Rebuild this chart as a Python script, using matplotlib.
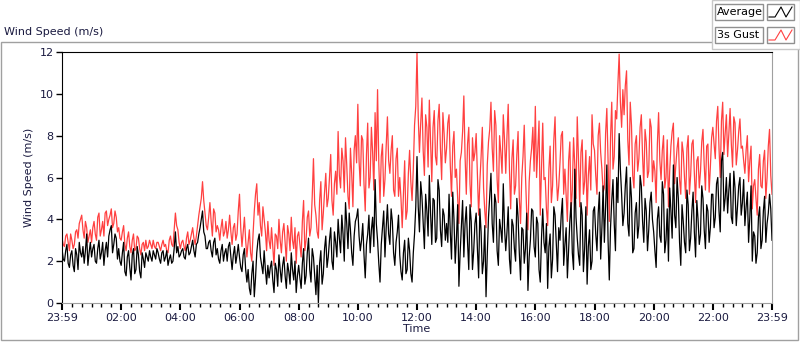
import numpy as np
import matplotlib
matplotlib.use('Agg')
import matplotlib.pyplot as plt
from matplotlib.patches import Rectangle
from matplotlib.lines import Line2D

# Wind speed (m/s), one row per hour.
# *_a: samples on every 5 minutes, *_b: samples 2.5 minutes later.
average_a = [
    2.6, 2.0, 2.8, 1.7, 2.5, 1.5, 2.3, 2.9, 2.2, 1.9, 3.3, 2.4,
    2.2, 2.8, 1.9, 3.0, 2.4, 1.8, 2.9, 3.2, 3.7, 2.8, 3.1, 2.6,
    1.8, 2.9, 1.3, 2.5, 1.1, 2.6, 1.6, 2.3, 1.2, 2.1, 2.4, 2.0,
    2.2, 2.5, 2.1, 2.4, 1.9, 2.5, 2.2, 1.8, 2.3, 2.0, 3.4, 2.7,
    2.3, 2.6, 2.1, 2.8, 2.4, 3.0, 2.2, 2.9, 3.6, 4.4, 3.2, 2.6,
    3.0, 2.2, 3.1, 2.6, 1.9, 2.8, 2.4, 2.0, 2.9, 1.6, 2.7, 2.3,
    2.2, 1.5, 2.6, 1.0, 0.7, 1.4, 0.3, 2.4, 3.3, 1.8, 2.5, 0.9,
    1.2, 2.0, 0.5, 1.6, 2.3, 1.0, 2.2, 0.7, 1.5, 2.4, 1.1, 0.5,
    1.8, 0.7, 2.6, 1.3, 3.1, 1.0, 2.2, 0.4, 0.0, 2.5, 1.4, 3.2,
    2.2, 3.6, 1.6, 2.9, 4.0, 2.4, 3.3, 4.8, 2.6, 3.5, 1.8, 3.9,
    4.5, 2.5, 3.8, 1.2, 3.3, 2.4, 4.1, 5.9, 3.0, 1.0, 3.6, 2.2,
    4.7, 2.8, 3.9, 1.8, 3.4, 2.3, 1.1, 3.0, 1.6, 2.5, 1.0, 3.3,
    7.0, 3.4, 5.1, 2.6, 4.4, 6.1, 2.8, 4.9, 3.1, 5.4, 2.7, 4.2,
    3.8, 5.2, 2.1, 4.0, 3.1, 0.8, 3.6, 2.2, 4.6, 1.6, 3.9, 2.5,
    4.3, 1.2, 3.4, 2.0, 0.3, 4.1, 6.2, 2.9, 4.8, 1.8, 3.5, 5.7,
    2.5, 4.6, 1.4, 3.7, 2.0, 4.1, 1.1, 3.5, 2.6, 0.6, 3.0, 4.4,
    2.2, 3.8, 1.0, 4.5, 2.4, 0.7, 3.3, 2.1, 4.2, 1.5, 3.0, 5.0,
    2.8, 1.2, 3.9, 2.4, 6.4, 3.1, 1.8, 4.2, 2.6, 0.9, 3.5, 2.0,
    4.6, 2.5, 5.3, 3.6, 2.9, 6.6, 1.1, 4.9, 3.8, 6.0, 8.1, 5.2,
    4.3, 6.5, 3.2, 5.0, 2.6, 4.8, 3.7, 5.6, 2.9, 4.4, 3.5, 5.3,
    3.4, 1.7, 4.6, 2.9, 5.2, 3.0, 2.0, 4.4, 6.6, 3.6, 5.0, 1.8,
    3.9, 2.4, 4.7, 3.1, 5.3, 2.2, 4.0, 3.3, 5.0, 2.6, 4.4, 3.6,
    5.2, 4.1, 6.0, 3.4, 7.2, 5.0, 4.3, 6.2, 3.8, 5.5, 4.6, 6.0,
    4.8, 3.7, 5.3, 4.1, 2.0, 3.2, 2.4, 4.6, 3.0, 5.1, 3.8, 5.2,
    3.0,
]
average_b = [
    2.1, 2.5, 1.9, 2.3, 1.8, 2.6, 1.6, 2.4, 2.7, 2.5, 1.8, 2.9,
    2.6, 2.0, 2.6, 2.1, 2.9, 2.5, 2.2, 3.5, 2.4, 3.3, 2.1, 2.0,
    2.4, 1.5, 2.2, 1.7, 2.3, 1.4, 2.7, 1.5, 2.4, 1.7, 2.2, 2.5,
    2.0, 2.3, 2.6, 2.1, 2.4, 2.0, 2.5, 2.1, 1.9, 2.6, 2.4, 2.2,
    2.5, 2.2, 2.6, 2.3, 2.7, 2.5, 2.8, 3.3, 4.0, 3.4, 2.6, 2.9,
    2.5, 2.9, 2.3, 2.1, 2.5, 2.0, 2.6, 2.7, 2.2, 2.3, 1.9, 2.8,
    1.7, 2.3, 1.6, 1.6, 0.4, 2.0, 1.2, 3.0, 2.2, 1.4, 1.6, 1.8,
    1.7, 1.1, 1.9, 0.8, 1.6, 1.8, 1.3, 1.9, 0.9, 1.6, 2.0, 1.3,
    1.2, 1.9, 0.9, 2.4, 1.6, 2.6, 1.3, 1.8, 1.9, 0.9, 2.6, 1.7,
    3.0, 2.0, 3.4, 2.2, 3.1, 4.2, 2.0, 3.8, 4.3, 2.4, 3.2, 4.1,
    3.2, 3.0, 2.3, 2.8, 4.2, 3.5, 2.7, 3.8, 1.9, 2.8, 4.4, 3.6,
    3.3, 4.5, 2.4, 2.9, 4.2, 1.5, 2.4, 1.4, 3.1, 1.4, 2.4, 4.6,
    4.6, 5.8, 3.9, 5.2, 3.2, 4.3, 5.0, 2.9, 5.9, 3.5, 4.5, 3.0,
    2.9, 3.4, 5.3, 1.9, 4.7, 2.4, 4.9, 3.8, 2.9, 4.7, 1.6, 3.8,
    2.6, 4.5, 1.4, 3.7, 2.3, 5.1, 3.8, 5.2, 2.5, 4.0, 2.9, 3.6,
    3.4, 2.1, 4.0, 2.6, 5.0, 2.4, 3.6, 1.9, 4.3, 2.2, 4.5, 2.7,
    4.1, 1.6, 3.1, 2.9, 3.8, 2.7, 1.2, 4.6, 2.8, 3.6, 4.2, 1.8,
    3.6, 2.5, 4.8, 1.6, 4.1, 2.3, 4.8, 1.5, 4.6, 2.7, 1.6, 4.4,
    3.3, 4.3, 2.1, 5.6, 4.6, 3.0, 3.6, 5.9, 2.5, 4.8, 6.4, 3.7,
    5.6, 3.8, 6.0, 2.4, 4.3, 3.1, 6.1, 3.9, 5.0, 2.5, 4.8, 4.0,
    2.5, 4.0, 3.2, 5.8, 2.4, 4.5, 5.5, 3.1, 4.2, 6.0, 2.9, 4.7,
    2.9, 5.4, 2.5, 4.4, 3.4, 4.9, 2.8, 5.6, 3.5, 4.7, 2.9, 5.2,
    3.6, 5.7, 4.4, 6.8, 4.4, 6.0, 5.4, 4.1, 6.3, 3.7, 5.6, 4.2,
    5.9, 4.6, 2.9, 5.6, 3.4, 1.9, 4.1, 2.6, 4.4, 2.9, 4.3, 4.5,
]
gust_a = [
    3.1, 2.7, 3.3, 2.5, 3.0, 2.8, 3.5, 3.8, 4.2, 3.1, 3.6, 3.2,
    2.9, 3.9, 3.0, 4.3, 3.5, 3.2, 4.4, 4.0, 4.5, 3.8, 4.1, 3.6,
    3.0, 3.7, 2.5, 3.4, 2.4, 3.3, 2.6, 3.1, 2.3, 2.9, 3.0, 2.7,
    2.8, 3.0, 2.6, 2.9, 2.5, 3.0, 2.8, 2.4, 3.2, 2.7, 4.3, 3.5,
    2.6, 3.0, 2.5, 3.4, 3.0, 3.6, 2.8, 3.7, 4.6, 5.8, 4.3, 3.5,
    4.8, 3.2, 4.3, 3.7, 3.0, 4.0, 3.4, 3.1, 4.2, 2.8, 3.8, 3.3,
    5.2, 2.7, 4.1, 2.2, 3.5, 2.0, 4.4, 5.7, 4.8, 3.2, 4.0, 2.5,
    3.0, 3.6, 1.8, 3.2, 4.0, 2.4, 3.8, 2.0, 3.3, 4.1, 2.6, 1.9,
    3.4, 2.2, 4.9, 3.0, 4.4, 3.6, 6.9, 4.2, 3.1, 5.8, 4.3, 6.2,
    5.0, 7.1, 4.2, 6.3, 8.2, 5.5, 6.8, 7.9, 5.1, 7.4, 4.6, 8.0,
    9.5, 5.6, 7.8, 4.4, 8.6, 6.0, 7.2, 9.1, 10.2, 4.8, 7.6, 5.9,
    8.9, 6.2, 8.0, 5.1, 7.4, 6.0, 3.6, 6.8, 4.4, 7.3, 4.9, 8.5,
    12.0, 7.2, 9.8, 6.1, 8.4, 9.7, 5.8, 9.2, 6.6, 9.5, 5.9, 8.1,
    7.4, 9.0, 5.1, 8.2, 6.4, 3.8, 7.2, 9.9, 5.2, 8.4, 4.6, 6.8,
    8.1, 4.2, 7.0, 5.5, 3.6, 7.7, 9.6, 6.3, 8.5, 4.8, 7.2, 9.0,
    6.2, 9.5, 4.5, 7.8, 5.6, 8.2, 3.8, 7.0, 6.1, 3.5, 6.8, 8.4,
    9.4, 7.3, 4.2, 8.6, 6.0, 3.7, 7.5, 5.6, 8.9, 4.9, 6.7, 8.2,
    6.4, 3.9, 7.7, 5.4, 6.6, 8.9, 4.6, 7.8, 5.8, 4.2, 7.0, 9.0,
    7.3, 5.2, 8.6, 6.4, 5.5, 9.3, 3.9, 9.6, 7.0, 8.8, 11.9, 8.4,
    9.0, 11.1, 6.6, 8.5, 5.5, 8.0, 6.9, 9.0, 5.6, 7.7, 6.3, 8.4,
    6.8, 4.8, 9.1, 5.9, 8.0, 6.0, 4.6, 7.5, 8.6, 6.6, 7.9, 5.2,
    7.2, 5.0, 8.0, 6.1, 7.8, 4.8, 7.0, 6.3, 8.3, 5.4, 7.6, 6.5,
    8.4, 6.9, 9.4, 6.0, 9.6, 8.1, 7.0, 9.3, 6.5, 8.6, 7.3, 8.8,
    7.5, 6.2, 8.0, 6.8, 4.5, 5.9, 4.2, 7.1, 5.5, 7.3, 6.0, 8.3,
    5.2,
]
gust_b = [
    2.8, 3.2, 2.9, 3.3, 2.6, 3.4, 3.1, 4.0, 3.5, 3.9, 2.9, 3.5,
    3.6, 3.3, 4.1, 3.2, 3.9, 4.3, 3.7, 4.2, 3.6, 4.4, 3.4, 3.1,
    3.4, 2.8, 3.1, 2.7, 3.0, 2.5, 3.2, 2.6, 2.8, 2.5, 2.6, 3.0,
    2.6, 2.7, 2.9, 2.7, 2.8, 2.7, 2.5, 3.0, 2.8, 3.5, 3.7, 2.9,
    2.9, 2.7, 3.1, 2.8, 3.3, 3.1, 3.2, 4.2, 5.0, 4.9, 3.7, 4.1,
    3.9, 4.5, 3.4, 3.5, 3.6, 3.2, 3.9, 3.5, 3.4, 3.6, 3.0, 4.4,
    3.6, 3.4, 3.0, 2.9, 2.4, 3.3, 5.2, 4.2, 3.7, 4.6, 3.4, 3.9,
    2.6, 2.7, 3.3, 2.6, 3.0, 3.4, 2.9, 3.7, 2.5, 3.0, 3.6, 3.2,
    2.8, 3.9, 2.5, 4.1, 3.2, 5.1, 4.7, 3.4, 4.9, 3.5, 5.3, 4.6,
    6.0, 4.9, 5.7, 5.2, 6.1, 7.4, 5.3, 6.6, 4.5, 6.2, 7.3, 6.7,
    6.8, 8.0, 5.7, 7.1, 5.5, 8.4, 5.4, 6.8, 6.7, 7.0, 5.1, 7.5,
    6.8, 7.3, 5.4, 6.9, 5.1, 5.0, 5.2, 4.0, 6.2, 5.8, 6.4, 9.4,
    8.9, 8.6, 7.3, 9.0, 6.5, 7.8, 8.4, 7.0, 8.7, 7.4, 9.1, 6.7,
    8.6, 6.6, 7.5, 6.0, 5.0, 6.8, 8.2, 7.0, 7.6, 5.7, 7.9, 7.2,
    6.1, 5.8, 8.4, 4.4, 6.6, 8.3, 7.4, 9.2, 5.9, 8.0, 6.2, 7.8,
    8.0, 6.4, 6.9, 5.2, 7.1, 5.0, 6.0, 8.5, 4.3, 5.8, 7.4, 6.3,
    6.0, 8.7, 6.5, 5.9, 4.5, 6.4, 4.8, 7.8, 6.2, 5.6, 8.0, 5.2,
    5.2, 6.8, 4.4, 7.9, 5.0, 6.9, 7.2, 5.2, 7.3, 6.1, 5.4, 7.6,
    6.1, 8.0, 7.2, 5.3, 8.1, 6.8, 7.9, 6.4, 9.2, 10.5, 9.6, 10.2,
    10.4, 7.8, 9.6, 6.1, 7.6, 6.3, 8.4, 7.0, 8.3, 6.0, 8.8, 5.8,
    6.3, 7.6, 6.8, 7.3, 5.5, 7.8, 6.3, 8.2, 5.7, 7.4, 5.9, 7.7,
    6.0, 7.4, 5.2, 7.6, 6.2, 6.8, 5.5, 7.7, 6.6, 7.5, 5.3, 7.9,
    7.6, 8.7, 7.4, 8.7, 7.1, 9.0, 8.1, 7.6, 8.9, 6.6, 8.2, 7.4,
    6.8, 7.3, 5.8, 7.5, 5.6, 5.0, 6.4, 5.6, 6.8, 5.0, 7.5, 6.1,
]
tick_labels = ['23:59', '02:00', '04:00', '06:00', '08:00', '10:00', '12:00',
               '14:00', '16:00', '18:00', '20:00', '22:00', '23:59']

# merge the two sample sets into one series on a 2.5 minute grid
n = len(average_a)
hours = np.arange(2 * n - 1) * 2.5 / 60.0
average = np.empty(2 * n - 1)
average[0::2] = average_a
average[1::2] = average_b
gust = np.empty(2 * n - 1)
gust[0::2] = gust_a
gust[1::2] = gust_b

txt = '#1a1a40'
plt.rcParams['font.family'] = 'DejaVu Sans'

fig = plt.figure(figsize=(8, 3.42), dpi=100)
ax = fig.add_axes([62 / 800, 39 / 342, 710 / 800, 251 / 342])

ax.plot(hours, gust, color='#ff4040', lw=0.9)
ax.plot(hours, average, color='black', lw=0.9)

ax.set_xlim(0, 24)
ax.set_ylim(0, 12)
ax.set_xticks(np.arange(0, 25, 2))
ax.set_xticklabels(tick_labels)
ax.set_xticks(np.arange(0, 24.01, 1 / 3), minor=True)
ax.set_yticks(np.arange(0, 13, 2))
ax.tick_params(axis='both', labelsize=8, colors='black', labelcolor=txt)
ax.tick_params(axis='x', which='major', length=5, width=1.5, pad=2)
ax.tick_params(axis='x', which='minor', length=3, width=1)
ax.tick_params(axis='y', length=4, width=1, pad=2)
ax.set_xlabel('Time', fontsize=8, color=txt, labelpad=1)
ax.set_ylabel('Wind Speed (m/s)', fontsize=8, color=txt, labelpad=4)
ax.spines['top'].set_color('black')
ax.spines['left'].set_color('black')
ax.spines['bottom'].set_color('#a0a0a0')
ax.spines['right'].set_color('#a0a0a0')

# outer panel and title
fig.patches.append(Rectangle((1 / 800, 2 / 342), 797 / 800, 298 / 342,
                             transform=fig.transFigure, fill=False,
                             edgecolor='#a0a0a0', lw=1))
fig.text(4 / 800, 1 - 32 / 342, 'Wind Speed (m/s)', fontsize=8, color=txt,
         ha='left', va='center')

# legend panel in the top right corner
fig.patches.append(Rectangle((712 / 800, 1 - 49 / 342), 88 / 800, 49 / 342,
                             transform=fig.transFigure, facecolor='white',
                             edgecolor='#c8c8c8', lw=1))
names = ['Average', '3s Gust']
colors = ['black', '#ff4040']
for i, (name, c) in enumerate(zip(names, colors)):
    top = 4 + i * 23
    fig.patches.append(Rectangle((715 / 800, 1 - (top + 16) / 342), 48 / 800, 16 / 342,
                                 transform=fig.transFigure, facecolor='white',
                                 edgecolor='#909090', lw=1))
    fig.patches.append(Rectangle((767 / 800, 1 - (top + 16) / 342), 27 / 800, 16 / 342,
                                 transform=fig.transFigure, facecolor='white',
                                 edgecolor='#909090', lw=1))
    fig.text(717 / 800, 1 - (top + 8) / 342, name, fontsize=8, color='black',
             ha='left', va='center')
    px = np.array([769, 775, 781, 786, 792]) / 800
    py = 1 - (top + np.array([13, 13, 3, 13, 3])) / 342
    fig.lines.append(Line2D(px, py, transform=fig.transFigure, color=c, lw=0.8))

fig.savefig('out.png', dpi=100)
